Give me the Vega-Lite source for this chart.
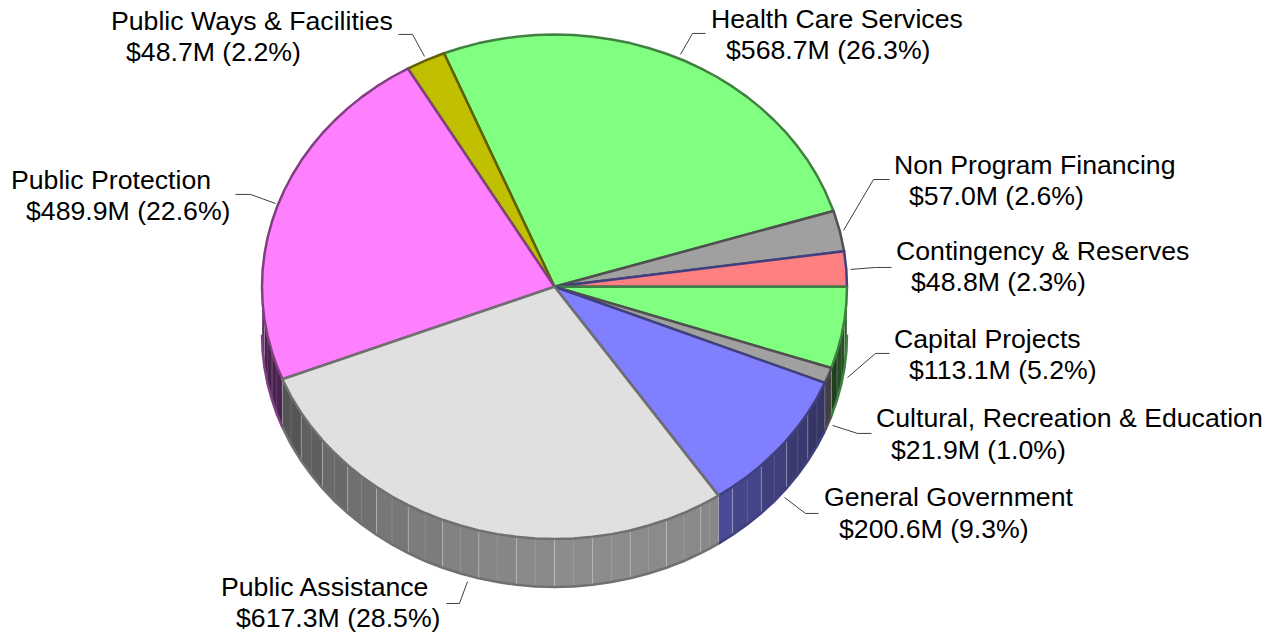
{"$schema":"https://vega.github.io/schema/vega-lite/v6.json","autosize":{"type":"fit","contains":"padding"},"width":1268,"height":638,"padding":0,"background":"white","view":{"stroke":null},
"datasets":{
"slices":[
{"name":"Health Care Services","detail":"$568.7M (26.3%)","valueM":568.7,"pct":26.3,"x":157,"y":268.7},
{"name":"Public Ways & Facilities","detail":"$48.7M (2.2%)","valueM":48.7,"pct":2.2,"x":-443,"y":266.6},
{"name":"Public Protection","detail":"$489.9M (22.6%)","valueM":489.9,"pct":22.6,"x":-543,"y":106.8},
{"name":"Non Program Financing","detail":"$57.0M (2.6%)","valueM":57.0,"pct":2.6,"x":340,"y":121.9},
{"name":"Contingency & Reserves","detail":"$48.8M (2.3%)","valueM":48.8,"pct":2.3,"x":342,"y":35.5},
{"name":"Capital Projects","detail":"$113.1M (5.2%)","valueM":113.1,"pct":5.2,"x":340,"y":-53},
{"name":"Cultural, Recreation & Education","detail":"$21.9M (1.0%)","valueM":21.9,"pct":1.0,"x":322,"y":-132.4},
{"name":"General Government","detail":"$200.6M (9.3%)","valueM":200.6,"pct":9.3,"x":270,"y":-211.8},
{"name":"Public Assistance","detail":"$617.3M (28.5%)","valueM":617.3,"pct":28.5,"x":-333,"y":-302.2}
],
"wedges":[
{"s":"Health","i":0,"x":0,"y":0},{"s":"Health","i":1,"x":279,"y":76.2},{"s":"Health","i":2,"x":270.2,"y":97},{"s":"Health","i":3,"x":262.3,"y":112.1},{"s":"Health","i":4,"x":253.3,"y":126.8},{"s":"Health","i":5,"x":243.2,"y":140.8},{"s":"Health","i":6,"x":232.1,"y":154.3},{"s":"Health","i":7,"x":219.9,"y":167.1},{"s":"Health","i":8,"x":206.8,"y":179.3},{"s":"Health","i":9,"x":192.9,"y":190.6},{"s":"Health","i":10,"x":178.1,"y":201.1},{"s":"Health","i":11,"x":162.5,"y":210.8},{"s":"Health","i":12,"x":146.3,"y":219.5},{"s":"Health","i":13,"x":129.4,"y":227.4},{"s":"Health","i":14,"x":111.9,"y":234.2},{"s":"Health","i":15,"x":94,"y":240},{"s":"Health","i":16,"x":75.7,"y":244.9},{"s":"Health","i":17,"x":57.1,"y":248.6},{"s":"Health","i":18,"x":38.2,"y":251.3},{"s":"Health","i":19,"x":19.1,"y":253},{"s":"Health","i":20,"x":0,"y":253.5},{"s":"Health","i":21,"x":-19.1,"y":253},{"s":"Health","i":22,"x":-38.2,"y":251.3},{"s":"Health","i":23,"x":-57.1,"y":248.6},{"s":"Health","i":24,"x":-75.7,"y":244.9},{"s":"Health","i":25,"x":-94,"y":240},{"s":"Health","i":26,"x":-110.5,"y":234.7},{"s":"Health","i":27,"x":0,"y":0},
{"s":"Ways","i":0,"x":0,"y":0},{"s":"Ways","i":1,"x":-110.5,"y":234.7},{"s":"Ways","i":2,"x":-128.2,"y":227.8},{"s":"Ways","i":3,"x":-146.7,"y":219.3},{"s":"Ways","i":4,"x":0,"y":0},
{"s":"Protection","i":0,"x":0,"y":0},{"s":"Protection","i":1,"x":-146.7,"y":219.3},{"s":"Protection","i":2,"x":-162.5,"y":210.8},{"s":"Protection","i":3,"x":-178.1,"y":201.1},{"s":"Protection","i":4,"x":-192.9,"y":190.6},{"s":"Protection","i":5,"x":-206.8,"y":179.3},{"s":"Protection","i":6,"x":-219.9,"y":167.1},{"s":"Protection","i":7,"x":-232.1,"y":154.3},{"s":"Protection","i":8,"x":-243.2,"y":140.8},{"s":"Protection","i":9,"x":-253.3,"y":126.8},{"s":"Protection","i":10,"x":-262.3,"y":112.1},{"s":"Protection","i":11,"x":-270.2,"y":97},{"s":"Protection","i":12,"x":-277,"y":81.5},{"s":"Protection","i":13,"x":-282.5,"y":65.6},{"s":"Protection","i":14,"x":-286.9,"y":49.5},{"s":"Protection","i":15,"x":-290,"y":33.1},{"s":"Protection","i":16,"x":-291.9,"y":16.6},{"s":"Protection","i":17,"x":-292.5,"y":0},{"s":"Protection","i":18,"x":-291.9,"y":-16.6},{"s":"Protection","i":19,"x":-290,"y":-33.1},{"s":"Protection","i":20,"x":-286.9,"y":-49.5},{"s":"Protection","i":21,"x":-282.5,"y":-65.6},{"s":"Protection","i":22,"x":-277.8,"y":-79.4},{"s":"Protection","i":23,"x":-272.1,"y":-92.9},{"s":"Protection","i":24,"x":0,"y":0},
{"s":"NonProgram","i":0,"x":0,"y":0},{"s":"NonProgram","i":1,"x":289.6,"y":35.7},{"s":"NonProgram","i":2,"x":285.6,"y":54.9},{"s":"NonProgram","i":3,"x":279,"y":76.2},{"s":"NonProgram","i":4,"x":0,"y":0},
{"s":"Contingency","i":0,"x":0,"y":0},{"s":"Contingency","i":1,"x":292.5,"y":0},{"s":"Contingency","i":2,"x":291.8,"y":17.7},{"s":"Contingency","i":3,"x":289.6,"y":35.7},{"s":"Contingency","i":4,"x":0,"y":0},
{"s":"Capital","i":0,"x":0,"y":0},{"s":"Capital","i":1,"x":276.9,"y":-81.7},{"s":"Capital","i":2,"x":282.5,"y":-65.6},{"s":"Capital","i":3,"x":286.9,"y":-49.5},{"s":"Capital","i":4,"x":290,"y":-33.1},{"s":"Capital","i":5,"x":291.9,"y":-16.6},{"s":"Capital","i":6,"x":292.5,"y":0},{"s":"Capital","i":7,"x":0,"y":0},
{"s":"Cultural","i":0,"x":0,"y":0},{"s":"Cultural","i":1,"x":270.4,"y":-96.6},{"s":"Cultural","i":2,"x":273.8,"y":-89.2},{"s":"Cultural","i":3,"x":276.9,"y":-81.7},{"s":"Cultural","i":4,"x":0,"y":0},
{"s":"General","i":0,"x":0,"y":0},{"s":"General","i":1,"x":164,"y":-209.9},{"s":"General","i":2,"x":178.1,"y":-201.1},{"s":"General","i":3,"x":192.9,"y":-190.6},{"s":"General","i":4,"x":206.8,"y":-179.3},{"s":"General","i":5,"x":219.9,"y":-167.1},{"s":"General","i":6,"x":232.1,"y":-154.3},{"s":"General","i":7,"x":243.2,"y":-140.8},{"s":"General","i":8,"x":253.3,"y":-126.8},{"s":"General","i":9,"x":262.4,"y":-111.9},{"s":"General","i":10,"x":270.4,"y":-96.6},{"s":"General","i":11,"x":0,"y":0},
{"s":"Assistance","i":0,"x":0,"y":0},{"s":"Assistance","i":1,"x":-272.1,"y":-92.9},{"s":"Assistance","i":2,"x":-263.5,"y":-110.1},{"s":"Assistance","i":3,"x":-253.3,"y":-126.8},{"s":"Assistance","i":4,"x":-243.2,"y":-140.8},{"s":"Assistance","i":5,"x":-232.1,"y":-154.3},{"s":"Assistance","i":6,"x":-219.9,"y":-167.1},{"s":"Assistance","i":7,"x":-206.8,"y":-179.3},{"s":"Assistance","i":8,"x":-192.9,"y":-190.6},{"s":"Assistance","i":9,"x":-178.1,"y":-201.1},{"s":"Assistance","i":10,"x":-162.5,"y":-210.8},{"s":"Assistance","i":11,"x":-146.3,"y":-219.5},{"s":"Assistance","i":12,"x":-129.4,"y":-227.4},{"s":"Assistance","i":13,"x":-111.9,"y":-234.2},{"s":"Assistance","i":14,"x":-94,"y":-240},{"s":"Assistance","i":15,"x":-75.7,"y":-244.9},{"s":"Assistance","i":16,"x":-57.1,"y":-248.6},{"s":"Assistance","i":17,"x":-38.2,"y":-251.3},{"s":"Assistance","i":18,"x":-19.1,"y":-253},{"s":"Assistance","i":19,"x":0,"y":-253.5},{"s":"Assistance","i":20,"x":19.1,"y":-253},{"s":"Assistance","i":21,"x":38.2,"y":-251.3},{"s":"Assistance","i":22,"x":57.1,"y":-248.6},{"s":"Assistance","i":23,"x":75.7,"y":-244.9},{"s":"Assistance","i":24,"x":94,"y":-240},{"s":"Assistance","i":25,"x":111.9,"y":-234.2},{"s":"Assistance","i":26,"x":129.4,"y":-227.4},{"s":"Assistance","i":27,"x":146.3,"y":-219.5},{"s":"Assistance","i":28,"x":155,"y":-215},{"s":"Assistance","i":29,"x":164,"y":-209.9},{"s":"Assistance","i":30,"x":0,"y":0}
],
"side":[
{"s":"Protection","f":"p1","x":-292.5,"t":0,"b":-48.2},{"s":"Protection","f":"p1","x":-291.9,"t":-16.6,"b":-64.8},{"s":"Protection","f":"p1","x":-290,"t":-33.1,"b":-81.3},
{"s":"Protection","f":"p2","x":-290,"t":-33.1,"b":-81.3},{"s":"Protection","f":"p2","x":-286.9,"t":-49.5,"b":-97.7},{"s":"Protection","f":"p2","x":-282.5,"t":-65.6,"b":-113.8},
{"s":"Protection","f":"p3","x":-282.5,"t":-65.6,"b":-113.8},{"s":"Protection","f":"p3","x":-277.8,"t":-79.4,"b":-127.6},{"s":"Protection","f":"p3","x":-272.1,"t":-92.9,"b":-141.1},
{"s":"Assistance","f":"a01","x":-272.1,"t":-92.9,"b":-141.1},{"s":"Assistance","f":"a01","x":-263.5,"t":-110.1,"b":-158.3},{"s":"Assistance","f":"a01","x":-253.3,"t":-126.8,"b":-175},
{"s":"Assistance","f":"a02","x":-253.3,"t":-126.8,"b":-175},{"s":"Assistance","f":"a02","x":-243.2,"t":-140.8,"b":-189},{"s":"Assistance","f":"a02","x":-232.1,"t":-154.3,"b":-202.5},
{"s":"Assistance","f":"a03","x":-232.1,"t":-154.3,"b":-202.5},{"s":"Assistance","f":"a03","x":-219.9,"t":-167.1,"b":-215.3},{"s":"Assistance","f":"a03","x":-206.8,"t":-179.3,"b":-227.5},
{"s":"Assistance","f":"a04","x":-206.8,"t":-179.3,"b":-227.5},{"s":"Assistance","f":"a04","x":-192.9,"t":-190.6,"b":-238.8},{"s":"Assistance","f":"a04","x":-178.1,"t":-201.1,"b":-249.3},
{"s":"Assistance","f":"a05","x":-178.1,"t":-201.1,"b":-249.3},{"s":"Assistance","f":"a05","x":-162.5,"t":-210.8,"b":-259},{"s":"Assistance","f":"a05","x":-146.3,"t":-219.5,"b":-267.7},
{"s":"Assistance","f":"a06","x":-146.3,"t":-219.5,"b":-267.7},{"s":"Assistance","f":"a06","x":-129.4,"t":-227.4,"b":-275.6},{"s":"Assistance","f":"a06","x":-111.9,"t":-234.2,"b":-282.4},
{"s":"Assistance","f":"a07","x":-111.9,"t":-234.2,"b":-282.4},{"s":"Assistance","f":"a07","x":-94,"t":-240,"b":-288.2},{"s":"Assistance","f":"a07","x":-75.7,"t":-244.9,"b":-293.1},
{"s":"Assistance","f":"a08","x":-75.7,"t":-244.9,"b":-293.1},{"s":"Assistance","f":"a08","x":-57.1,"t":-248.6,"b":-296.8},{"s":"Assistance","f":"a08","x":-38.2,"t":-251.3,"b":-299.5},
{"s":"Assistance","f":"a09","x":-38.2,"t":-251.3,"b":-299.5},{"s":"Assistance","f":"a09","x":-19.1,"t":-253,"b":-301.2},{"s":"Assistance","f":"a09","x":0,"t":-253.5,"b":-301.7},
{"s":"Assistance","f":"a10","x":0,"t":-253.5,"b":-301.7},{"s":"Assistance","f":"a10","x":19.1,"t":-253,"b":-301.2},{"s":"Assistance","f":"a10","x":38.2,"t":-251.3,"b":-299.5},
{"s":"Assistance","f":"a11","x":38.2,"t":-251.3,"b":-299.5},{"s":"Assistance","f":"a11","x":57.1,"t":-248.6,"b":-296.8},{"s":"Assistance","f":"a11","x":75.7,"t":-244.9,"b":-293.1},
{"s":"Assistance","f":"a12","x":75.7,"t":-244.9,"b":-293.1},{"s":"Assistance","f":"a12","x":94,"t":-240,"b":-288.2},{"s":"Assistance","f":"a12","x":111.9,"t":-234.2,"b":-282.4},
{"s":"Assistance","f":"a13","x":111.9,"t":-234.2,"b":-282.4},{"s":"Assistance","f":"a13","x":129.4,"t":-227.4,"b":-275.6},{"s":"Assistance","f":"a13","x":146.3,"t":-219.5,"b":-267.7},
{"s":"Assistance","f":"a14","x":146.3,"t":-219.5,"b":-267.7},{"s":"Assistance","f":"a14","x":155,"t":-215,"b":-263.2},{"s":"Assistance","f":"a14","x":164,"t":-209.9,"b":-258.1},
{"s":"General","f":"g1","x":164,"t":-209.9,"b":-258.1},{"s":"General","f":"g1","x":178.1,"t":-201.1,"b":-249.3},
{"s":"General","f":"g2","x":178.1,"t":-201.1,"b":-249.3},{"s":"General","f":"g2","x":192.9,"t":-190.6,"b":-238.8},{"s":"General","f":"g2","x":206.8,"t":-179.3,"b":-227.5},
{"s":"General","f":"g3","x":206.8,"t":-179.3,"b":-227.5},{"s":"General","f":"g3","x":219.9,"t":-167.1,"b":-215.3},{"s":"General","f":"g3","x":232.1,"t":-154.3,"b":-202.5},
{"s":"General","f":"g4","x":232.1,"t":-154.3,"b":-202.5},{"s":"General","f":"g4","x":243.2,"t":-140.8,"b":-189},{"s":"General","f":"g4","x":253.3,"t":-126.8,"b":-175},
{"s":"General","f":"g5","x":253.3,"t":-126.8,"b":-175},{"s":"General","f":"g5","x":262.4,"t":-111.9,"b":-160.1},{"s":"General","f":"g5","x":270.4,"t":-96.6,"b":-144.8},
{"s":"Cultural","f":"c1","x":270.4,"t":-96.6,"b":-144.8},{"s":"Cultural","f":"c1","x":276.9,"t":-81.7,"b":-129.9},
{"s":"Capital","f":"k1","x":276.9,"t":-81.7,"b":-129.9},{"s":"Capital","f":"k1","x":282.5,"t":-65.6,"b":-113.8},
{"s":"Capital","f":"k2","x":282.5,"t":-65.6,"b":-113.8},{"s":"Capital","f":"k2","x":286.9,"t":-49.5,"b":-97.7},{"s":"Capital","f":"k2","x":290,"t":-33.1,"b":-81.3},
{"s":"Capital","f":"k3","x":290,"t":-33.1,"b":-81.3},{"s":"Capital","f":"k3","x":291.9,"t":-16.6,"b":-64.8},{"s":"Capital","f":"k3","x":292.5,"t":0,"b":-48.2}
],
"leaders":[
{"l":"Ways","i":0,"x":-156,"y":253.6},{"l":"Ways","i":1,"x":-142,"y":253.6},{"l":"Ways","i":2,"x":-130,"y":231.5},
{"l":"Health","i":0,"x":151,"y":254.6},{"l":"Health","i":1,"x":138,"y":254.6},{"l":"Health","i":2,"x":126,"y":233.5},
{"l":"NonProgram","i":0,"x":335,"y":107.8},{"l":"NonProgram","i":1,"x":319,"y":107.8},{"l":"NonProgram","i":2,"x":289,"y":56.6},
{"l":"Contingency","i":0,"x":337,"y":19.4},{"l":"Contingency","i":1,"x":321,"y":19.4},{"l":"Contingency","i":2,"x":296,"y":17.4},
{"l":"Capital","i":0,"x":335,"y":-67},{"l":"Capital","i":1,"x":321,"y":-67},{"l":"Capital","i":2,"x":293,"y":-91.2},
{"l":"Cultural","i":0,"x":317,"y":-147.4},{"l":"Cultural","i":1,"x":303,"y":-147.4},{"l":"Cultural","i":2,"x":278,"y":-139.4},
{"l":"General","i":0,"x":264,"y":-227.8},{"l":"General","i":1,"x":251,"y":-227.8},{"l":"General","i":2,"x":230,"y":-211.8},
{"l":"Assistance","i":0,"x":-108,"y":-318.3},{"l":"Assistance","i":1,"x":-95,"y":-318.3},{"l":"Assistance","i":2,"x":-87,"y":-296.2},
{"l":"Protection","i":0,"x":-319,"y":92.8},{"l":"Protection","i":1,"x":-304,"y":92.8},{"l":"Protection","i":2,"x":-279,"y":83.7}
]},
"encoding":{},
"resolve":{"scale":{"fill":"independent","stroke":"independent"}},
"layer":[
{"data":{"name":"side"},"mark":{"type":"area","orient":"vertical","clip":false},"encoding":{
"x":{"field":"x","type":"quantitative","scale":{"domain":[-554.5,713.5],"nice":false,"zero":false},"axis":null},
"y":{"field":"t","type":"quantitative","scale":{"domain":[-353,288.2],"nice":false,"zero":false},"axis":null},
"y2":{"field":"b"},
"fill":{"field":"f","type":"nominal","legend":null,"scale":{
"domain":["p1","p2","p3","a01","a02","a03","a04","a05","a06","a07","a08","a09","a10","a11","a12","a13","a14","g1","g2","g3","g4","g5","c1","k1","k2","k3"],
"range":["#5a2a5f","#47234c","#4a2450","#555555","#5f5f5f","#696969","#707070","#777777","#7d7d7d","#828282","#868686","#8a8a8a","#8c8c8c","#8c8c8c","#8b8b8b","#8a8a8a","#888888","#4a4a96","#454589","#3f3f7c","#3a3a70","#353566","#404040","#1f3f1f","#264d26","#2f5f2f"]}}}},
{"data":{"name":"side"},"mark":{"type":"rule","stroke":"#ffffff","strokeOpacity":0.12,"strokeWidth":1},"encoding":{
"x":{"field":"x","type":"quantitative"},
"y":{"field":"t","type":"quantitative"},
"y2":{"field":"b"}}},
{"data":{"name":"side"},"mark":{"type":"line","strokeWidth":2.5},"encoding":{
"x":{"field":"x","type":"quantitative"},
"y":{"field":"b","type":"quantitative"},
"stroke":{"field":"s","type":"nominal","legend":null,"scale":{
"domain":["Protection","Assistance","General","Cultural","Capital"],
"range":["#804080","#707070","#404080","#505050","#408040"]}}}},
{"data":{"name":"wedges"},"mark":{"type":"line","strokeWidth":2.5,"strokeJoin":"round"},"encoding":{
"x":{"field":"x","type":"quantitative"},
"y":{"field":"y","type":"quantitative"},
"order":{"field":"i","type":"quantitative"},
"detail":{"field":"s","type":"nominal"},
"fill":{"field":"s","type":"nominal","legend":null,"scale":{
"domain":["Health","Ways","Protection","NonProgram","Contingency","Capital","Cultural","General","Assistance"],
"range":["#80ff80","#c0c000","#ff80ff","#a0a0a0","#ff8080","#80ff80","#a0a0a0","#8080ff","#e0e0e0"]}},
"stroke":{"field":"s","type":"nominal","legend":null,"scale":{
"domain":["Health","Ways","Protection","NonProgram","Contingency","Capital","Cultural","General","Assistance"],
"range":["#408040","#606000","#804080","#505050","#404080","#408040","#505050","#404080","#707070"]}}}},
{"data":{"name":"leaders"},"mark":{"type":"line","strokeWidth":1,"stroke":"#404040"},"encoding":{
"x":{"field":"x","type":"quantitative"},
"y":{"field":"y","type":"quantitative"},
"order":{"field":"i","type":"quantitative"},
"detail":{"field":"l","type":"nominal"}}},
{"data":{"name":"slices"},"mark":{"type":"text","align":"left","baseline":"middle","font":"Liberation Sans","fontSize":26.67,"fill":"#000000","dx":-0.5,"dy":0.5},"encoding":{
"x":{"field":"x","type":"quantitative"},
"y":{"field":"y","type":"quantitative"},
"text":{"field":"name"}}},
{"data":{"name":"slices"},"mark":{"type":"text","align":"left","baseline":"middle","font":"Liberation Sans","fontSize":26.67,"fill":"#000000","dx":14.5,"dy":32},"encoding":{
"x":{"field":"x","type":"quantitative"},
"y":{"field":"y","type":"quantitative"},
"text":{"field":"detail"}}}
]}
